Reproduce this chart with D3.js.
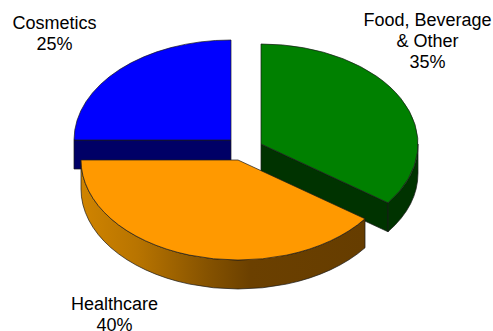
<!DOCTYPE html>
<html>
<head>
<meta charset="utf-8">
<script src="https://cdn.jsdelivr.net/npm/d3@7/dist/d3.min.js"></script>
<style>
html,body{margin:0;padding:0;background:#fff;}
svg{display:block;}
text{font-family:"Liberation Sans",Arial,sans-serif;font-size:18px;fill:#000;}
</style>
</head>
<body>
<svg id="chart" width="493" height="331"></svg>
<script>
// Revenue share by segment, clockwise from twelve o'clock
const categories = ["Food, Beverage & Other", "Healthcare", "Cosmetics"];
const values = [35, 40, 25];
const topColors = ["#008000", "#ff9900", "#0000ff"];
const wallColors = ["#003300", "#663d00", "#000066"];
const labelLines = [["Food, Beverage", "& Other", "35%"], ["Healthcare", "40%"], ["Cosmetics", "25%"]];

// Layout of the exploded 3-D disc
const rx = 157, ry = 100, depth = 29;
const centers = [[261, 144], [238, 160], [231, 140]];
const labelAnchors = [[427.5, 26], [114.5, 310], [54.5, 29]];

const svg = d3.select("#chart");
const defs = svg.append("defs");
const pieLayout = d3.pie().value(d => d).sort(null)(values);
const unitArc = d3.arc().innerRadius(0).outerRadius(1);
const lineHeight = 21;

const px = (c, a) => c[0] + rx * Math.sin(a);
const py = (c, a) => c[1] - ry * Math.cos(a);

// Shaded rim of the healthcare slice
const grad = defs.append("linearGradient").attr("id", "rimShade")
  .attr("gradientUnits", "userSpaceOnUse")
  .attr("x1", 81).attr("x2", 364).attr("y1", 0).attr("y2", 0);
[[0, "#d08400"], [0.2, "#b87400"], [0.45, "#855200"], [0.6, "#6b4000"], [1, "#663d00"]]
  .forEach(s => grad.append("stop").attr("offset", s[0]).attr("stop-color", s[1]));

const edge = { stroke: "#1a1a1a", width: 0.7 };

function wall(d) {
  return d3.select(document.createElementNS(d3.namespaces.svg, "path"))
    .attr("d", d).attr("stroke", edge.stroke).attr("stroke-width", edge.width)
    .attr("stroke-linejoin", "round");
}

// Painted back to front: cosmetics, then food, then healthcare
[2, 0, 1].forEach(i => {
  const s = pieLayout[i], c = centers[i];
  const g = svg.append("g");
  const addWall = (d, fill) => { g.append(() => wall(d).attr("fill", fill).node()); };

  // Flat wall under a cut edge that faces the viewer
  const cutAngle = i === 2 ? s.startAngle : s.endAngle;
  if (i !== 1) {
    addWall(`M${c[0]},${c[1]} L${px(c, cutAngle)},${py(c, cutAngle)} v${depth} L${c[0]},${c[1] + depth} Z`, wallColors[i]);
  }

  // Curved rim over the part of the slice on the near half of the ellipse
  const a0 = Math.max(s.startAngle, Math.PI / 2);
  const a1 = Math.min(s.endAngle, 3 * Math.PI / 2);
  if (a1 > a0) {
    const x0 = px(c, a0), y0 = py(c, a0), x1 = px(c, a1), y1 = py(c, a1);
    addWall(`M${x0},${y0} A${rx},${ry} 0 0 1 ${x1},${y1} v${depth} A${rx},${ry} 0 0 0 ${x0},${y0 + depth} Z`,
      i === 1 ? "url(#rimShade)" : wallColors[i]);
  }

  // Top face: a unit arc stretched to the ellipse
  g.append("path")
    .attr("transform", `translate(${c[0]},${c[1]}) scale(${rx},${ry})`)
    .attr("d", unitArc(s))
    .attr("fill", topColors[i])
    .attr("stroke", edge.stroke)
    .attr("stroke-width", edge.width)
    .attr("vector-effect", "non-scaling-stroke")
    .attr("stroke-linejoin", "round");
});

// Category and share labels
svg.selectAll("text.label").data(labelLines).join("text")
  .attr("class", "label")
  .attr("text-anchor", "middle")
  .each(function (lines, i) {
    d3.select(this).selectAll("tspan").data(lines).join("tspan")
      .attr("x", labelAnchors[i][0])
      .attr("y", (l, j) => labelAnchors[i][1] + j * lineHeight)
      .text(l => l);
  });
</script>
</body>
</html>
